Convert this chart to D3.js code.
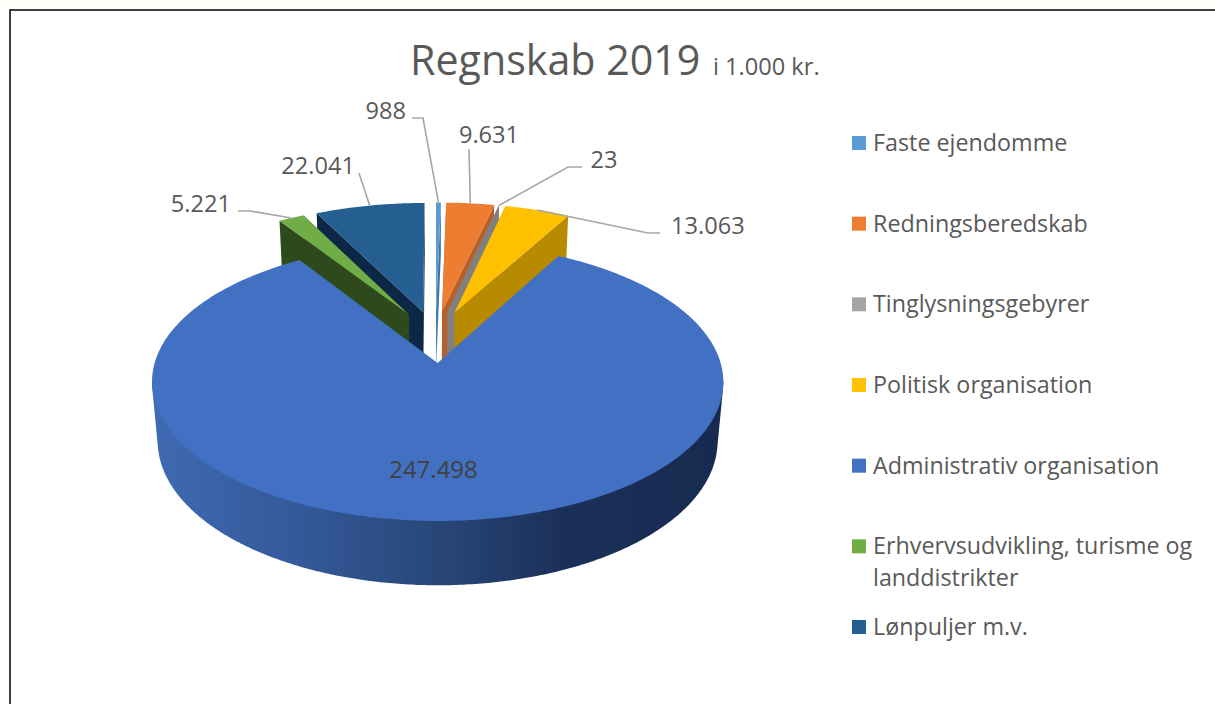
<!DOCTYPE html>
<html><head><meta charset="utf-8">
<script src="https://cdn.jsdelivr.net/npm/d3@7/dist/d3.min.js"></script>
<style>html,body{margin:0;padding:0;background:#fffffb;overflow:hidden}svg{display:block}text{font-family:"Open Sans",sans-serif;fill:#595959}</style>
</head><body><svg id="c" width="1215" height="704"></svg>
<script>
const categories = ["Faste ejendomme","Redningsberedskab","Tinglysningsgebyrer","Politisk organisation","Administrativ organisation","Erhvervsudvikling, turisme og landdistrikter","Lønpuljer m.v."];
const values = [988,9631,23,13063,247498,5221,22041];
const topColors = ["#5b9bd5","#ed7d31","#a5a5a5","#ffc000","#4270c2","#70ad47","#255e91"];
const wallColors = ["#3e76aa","#b9602a","#808080","#b88a00","#27457c","#2e4a1c","#0d2747"];
const titleMain = "Regnskab 2019", titleSub = "i 1.000 kr.";

const labelLayout = [
 {tx:406,ty:119,anchor:"end",elbow:[[412,118],[423,118]],frac:1},
 {tx:489,ty:143,anchor:"middle",elbow:[[469,149]],frac:1},
 {tx:604,ty:168,anchor:"middle",elbow:[[582,167],[568,167]],frac:1},
 {tx:671,ty:234,anchor:"start",elbow:[[660,233],[648,233]],frac:1},
 null,
 {tx:231,ty:212,anchor:"end",elbow:[[238,211],[250,211]],frac:1},
 {tx:355,ty:174,anchor:"end",elbow:[[359,173]],frac:1}
];
const drawOrder = [0,6,5,1,2,3,4];

const P = {cx:435.5,y0:363,a:283,b:136.5,p:0.136,q:0.02,c:60,explode:0.2};
const project = (x,z,h) => {
  const w = 1+P.p*z+P.q*h;
  return [P.cx+P.a*x/w, P.y0+(-P.b*z+P.c*h)/w];
};

const svg = d3.select("#c");
svg.append("rect").attr("x",10).attr("y",10).attr("width",1215).attr("height",704).attr("fill","#fff").attr("stroke","#111").attr("stroke-width",1.6);

const defs = svg.append("defs");
const grad = defs.append("linearGradient").attr("id","wallGrad").attr("gradientUnits","userSpaceOnUse")
  .attr("x1",152).attr("x2",723).attr("y1",0).attr("y2",0);
[[0,"#3f6ab2"],[0.25,"#35599a"],[0.5,"#284778"],[0.72,"#1b3059"],[1,"#172a4f"]]
  .forEach(s=>grad.append("stop").attr("offset",s[0]).attr("stop-color",s[1]));

const pieData = d3.pie().sort(null).startAngle(0).endAngle(2*Math.PI)(values);
const line = d3.line();
const geom = pieData.map(d=>{
  const mid=(d.startAngle+d.endAngle)/2;
  const tx=P.explode*Math.sin(mid), tz=P.explode+P.explode*Math.cos(mid);
  const pt=(ang,r,h)=>project(tx+r*Math.sin(ang),tz+r*Math.cos(ang),h);
  const n=Math.max(2,Math.ceil((d.endAngle-d.startAngle)/0.01));
  const angs=d3.range(n+1).map(i=>d.startAngle+(d.endAngle-d.startAngle)*i/n);
  return {d,mid,pt,angs};
});

drawOrder.forEach(i=>{
  const g=geom[i];
  const s=svg.append("g");
  const wall=wallColors[i];
  if(i===4){
    // swept side wall: hull of the front-facing rim at top and bottom
    const front=g.angs.filter(a=>a>Math.PI*0.54&&a<Math.PI*1.46);
    const hull=d3.polygonHull(front.flatMap(a=>[g.pt(a,1,0),g.pt(a,1,1)]));
    s.append("path").attr("d",line(hull)+"Z").attr("fill","url(#wallGrad)");
  } else {
    [g.d.startAngle,g.d.endAngle].forEach(a=>{
      const q=[g.pt(a,0,0),g.pt(a,1,0),g.pt(a,1,1),g.pt(a,0,1)];
      s.append("path").attr("d",line(q)+"Z").attr("fill",wall);
    });
  }
  const face=[g.pt(0,0,0)].concat(g.angs.map(a=>g.pt(a,1,0)));
  s.append("path").attr("d",line(face)+"Z").attr("fill",topColors[i]);
});

const fmt = d3.formatLocale({decimal:",",thousands:".",grouping:[3],currency:["","kr"]}).format(",d");
const LBL=23.6;
labelLayout.forEach((l,i)=>{
  const g=geom[i];
  if(!l){
    svg.append("text").attr("x",433.5).attr("y",478).attr("text-anchor","middle").attr("font-size",24).style("fill","#404040").text(fmt(values[i]));
    return;
  }
  const anchorPt=g.pt(g.mid,l.frac,0);
  svg.append("path").attr("d",line(l.elbow.concat([anchorPt]))).attr("fill","none").attr("stroke","#a6a6a6").attr("stroke-width",1.6);
  svg.append("text").attr("x",l.tx).attr("y",l.ty).attr("text-anchor",l.anchor).attr("font-size",LBL).text(fmt(values[i]));
});

const title=svg.append("text").attr("x",410).attr("y",75).attr("font-size",41.2);
title.append("tspan").text(titleMain);
title.append("tspan").attr("x",713).attr("font-size",23.6).text(titleSub);

const legendY=d3.scalePoint().domain(categories).range([143,627]);
categories.forEach((c,i)=>{
  const y=legendY(c);
  svg.append("rect").attr("x",852).attr("y",y-7).attr("width",14).attr("height",14).attr("fill",topColors[i]);
  const t=svg.append("text").attr("x",873).attr("y",y+8).attr("font-size",23.3);
  if(c.startsWith("Erhverv")){
    t.text("Erhvervsudvikling, turisme og");
    svg.append("text").attr("x",873).attr("y",y+40).attr("font-size",23.3).text("landdistrikter");
  } else t.text(c);
});
</script></body></html>
